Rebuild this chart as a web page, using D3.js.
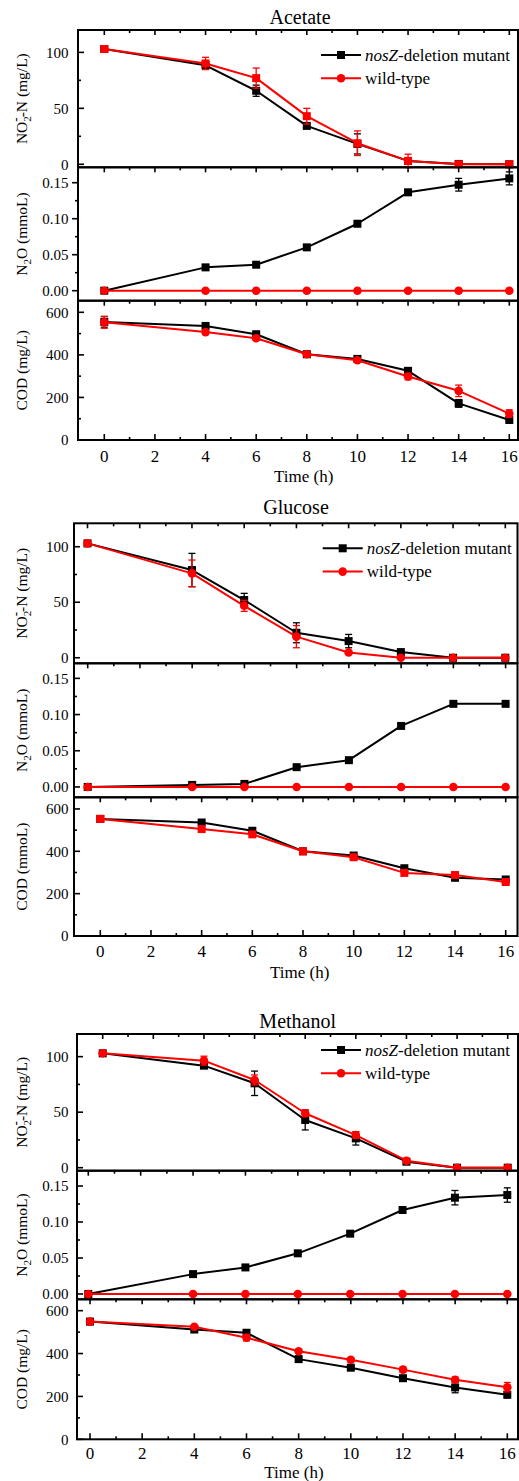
<!DOCTYPE html>
<html>
<head>
<meta charset="utf-8">
<script src="https://cdn.jsdelivr.net/npm/d3@7"></script>
<style>
  body { margin: 0; background: #fff; }
  svg { display: block; }
  text { font-family: "Liberation Serif", "Times New Roman", serif; fill: #000; }
</style>
</head>
<body>
<svg id="chart" width="519" height="1481"></svg>
<script>
// Sampling times (h) and axis tick values
const hours = [0, 4, 6, 8, 10, 12, 14, 16];
const timeTicks = d3.range(0, 17, 1);
const timeLabels = [0, 2, 4, 6, 8, 10, 12, 14, 16];
const nitriteTicks = [0, 50, 100];
const nitriteMinor = [25, 75];
const n2oTicks = [0, 0.05, 0.10, 0.15];
const n2oMinor = [0.025, 0.075, 0.125];
const codTicks = [0, 200, 400, 600];
const codMinor = [100, 300, 500];
const seriesNames = ["nosZ-deletion mutant", "wild-type"];

// Acetate
const acNitMut    = [103, 88.4, 65.7, 34.3, 18.2, 3.0, 0.3, 0];
const acNitMutErr = [1, 3, 5, 2, 9, 2, 1.5, 1];
const acNitWt     = [103, 90.1, 77.0, 43.0, 18.8, 3.0, 0, 0];
const acNitWtErr  = [1, 5.5, 9, 7, 11, 6, 1, 1];
const acN2oMut    = [0, 0.0324, 0.0361, 0.0602, 0.0930, 0.1366, 0.1472, 0.1560];
const acN2oMutErr = [0, 0.001, 0.001, 0.002, 0.003, 0.004, 0.0088, 0.009];
const acN2oWt     = [0, 0, 0, 0, 0, 0, 0, 0];
const acN2oWtErr  = [0, 0, 0, 0, 0, 0, 0, 0];
const acCodMut    = [555, 536, 497, 403, 381, 325, 172, 94];
const acCodMutErr = [25, 8, 10, 12, 10, 15, 18, 8];
const acCodWt     = [553, 507, 478, 403, 375, 298, 231, 124];
const acCodWtErr  = [28, 10, 10, 12, 10, 15, 27, 18];

// Glucose
const glNitMut    = [103, 79.0, 52.0, 22.5, 15.0, 5.1, 0, 0];
const glNitMutErr = [1, 15, 6, 9, 6, 1, 1, 1];
const glNitWt     = [103, 76.0, 46.8, 19.0, 4.8, 0, 0, 0];
const glNitWtErr  = [1, 12, 5, 10, 1, 1, 0.5, 0.5];
const glN2oMut    = [0, 0.0028, 0.0042, 0.0273, 0.0370, 0.0843, 0.1148, 0.1148];
const glN2oMutErr = [0, 0.001, 0.001, 0.001, 0.001, 0.002, 0.002, 0.002];
const glN2oWt     = [0, 0, 0, 0, 0, 0, 0, 0];
const glN2oWtErr  = [0, 0, 0, 0, 0, 0, 0, 0];
const glCodMut    = [553, 536, 497, 400, 380, 320, 275, 267];
const glCodMutErr = [4, 5, 5, 5, 5, 6, 6, 5];
const glCodWt     = [553, 505, 480, 400, 372, 298, 288, 255];
const glCodWtErr  = [4, 5, 5, 5, 5, 6, 6, 5];

// Methanol
const meNitMut    = [103, 91.9, 76.0, 43.0, 26.4, 5.4, 0, 0];
const meNitMutErr = [1, 2, 11, 9, 6, 2, 1, 1];
const meNitWt     = [103, 96.4, 79.0, 49.0, 29.4, 6.3, 0, 0];
const meNitWtErr  = [1, 4, 4.5, 3, 3, 2, 1, 1];
const meN2oMut    = [0, 0.0276, 0.0369, 0.0565, 0.0838, 0.1167, 0.1338, 0.1375];
const meN2oMutErr = [0, 0.001, 0.001, 0.001, 0.002, 0.004, 0.010, 0.010];
const meN2oWt     = [0, 0, 0, 0, 0, 0, 0, 0];
const meN2oWtErr  = [0, 0, 0, 0, 0, 0, 0, 0];
const meCodMut    = [549, 512, 497, 374, 334, 285, 242, 208];
const meCodMutErr = [5, 8, 8, 8, 8, 10, 25, 15];
const meCodWt     = [549, 525, 474, 411, 371, 325, 278, 243];
const meCodWtErr  = [5, 8, 15, 8, 10, 12, 12, 22];

const MUT = "#000000";
const WT = "#ff0000";

const kinds = {
  nit: { major: nitriteTicks, minor: nitriteMinor, fmt: d3.format("d") },
  n2o: { major: n2oTicks, minor: n2oMinor, fmt: d3.format(".2f") },
  cod: { major: codTicks, minor: codMinor, fmt: d3.format("d") }
};

const blocks = [
  {
    title: "Acetate", titleX: 300, titleY: 24, left: 78, right: 518,
    legendX: 321, legendY: 55, codTitle: "COD (mg/L)",
    tickLabelY: 461.7, timeX: 303.7, timeY: 482,
    panels: [
      { kind: "nit", top: 30, bottom: 167.3, yDom: [-2.7, 120], t0: 104.3, t16: 509.3,
        mut: acNitMut, mutErr: acNitMutErr, wt: acNitWt, wtErr: acNitWtErr, wtShape: "square", out: false },
      { kind: "n2o", top: 167.3, bottom: 300.7, yDom: [-0.0139, 0.1714], t0: 104.3, t16: 509.3,
        mut: acN2oMut, mutErr: acN2oMutErr, wt: acN2oWt, wtErr: acN2oWtErr, wtShape: "circle", out: true },
      { kind: "cod", top: 300.7, bottom: 440, yDom: [0, 654.5], t0: 104.3, t16: 509.3,
        mut: acCodMut, mutErr: acCodMutErr, wt: acCodWt, wtErr: acCodWtErr, wtShape: "circle", out: false }
    ]
  },
  {
    title: "Glucose", titleX: 296, titleY: 514, left: 74, right: 517.5,
    legendX: 322.7, legendY: 548.3, codTitle: "COD (mmoL)",
    tickLabelY: 957.3, timeX: 299.7, timeY: 978.3,
    panels: [
      { kind: "nit", top: 523.3, bottom: 663.3, yDom: [-5.0, 121.1], t0: 87.5, t16: 505.3,
        mut: glNitMut, mutErr: glNitMutErr, wt: glNitWt, wtErr: glNitWtErr, wtShape: "circle", out: false },
      { kind: "n2o", top: 663.3, bottom: 797.3, yDom: [-0.0143, 0.1708], t0: 87.7, t16: 505.6,
        mut: glN2oMut, mutErr: glN2oMutErr, wt: glN2oWt, wtErr: glN2oWtErr, wtShape: "circle", out: false },
      { kind: "cod", top: 797.3, bottom: 936, yDom: [0, 655], t0: 100.3, t16: 505.7,
        mut: glCodMut, mutErr: glCodMutErr, wt: glCodWt, wtErr: glCodWtErr, wtShape: "square", out: false }
    ]
  },
  {
    title: "Methanol", titleX: 297.7, titleY: 1027.7, left: 77, right: 518,
    legendX: 321, legendY: 1050, codTitle: "COD (mg/L)",
    tickLabelY: 1459, timeX: 294, timeY: 1478,
    panels: [
      { kind: "nit", top: 1034, bottom: 1170.7, yDom: [-2.7, 120.4], t0: 102.7, t16: 507.7,
        mut: meNitMut, mutErr: meNitMutErr, wt: meNitWt, wtErr: meNitWtErr, wtShape: "circle", out: false },
      { kind: "n2o", top: 1170.7, bottom: 1299.3, yDom: [-0.0074, 0.1713], t0: 88.3, t16: 507.3,
        mut: meN2oMut, mutErr: meN2oMutErr, wt: meN2oWt, wtErr: meN2oWtErr, wtShape: "circle", out: false },
      { kind: "cod", top: 1299.3, bottom: 1439.3, yDom: [0, 653], t0: 90, t16: 507.3,
        mut: meCodMut, mutErr: meCodMutErr, wt: meCodWt, wtErr: meCodWtErr, wtShape: "circle", out: false }
    ]
  }
];

const svg = d3.select("#chart");

function drawMarker(g, shape, cx, cy, color) {
  if (shape === "square") {
    g.append("rect").attr("x", cx - 4).attr("y", cy - 4).attr("width", 8).attr("height", 8)
      .attr("fill", color);
  } else {
    g.append("circle").attr("cx", cx).attr("cy", cy).attr("r", 4.3).attr("fill", color);
  }
}

function drawSeries(g, x, y, vals, errs, color, shape) {
  const line = d3.line().x((d, i) => x(hours[i])).y(d => y(d));
  g.append("path").datum(vals).attr("d", line)
    .attr("fill", "none").attr("stroke", color).attr("stroke-width", 2)
    .attr("stroke-linejoin", "round");
  const eb = g.append("g").attr("stroke", color).attr("stroke-width", 1.3);
  vals.forEach((v, i) => {
    const e = errs[i];
    if (!e) return;
    const cx = x(hours[i]);
    const y1 = y(v - e), y2 = y(v + e);
    eb.append("line").attr("x1", cx).attr("x2", cx).attr("y1", y1).attr("y2", y2);
    eb.append("line").attr("x1", cx - 3.5).attr("x2", cx + 3.5).attr("y1", y1).attr("y2", y1);
    eb.append("line").attr("x1", cx - 3.5).attr("x2", cx + 3.5).attr("y1", y2).attr("y2", y2);
  });
  const mg = g.append("g");
  vals.forEach((v, i) => drawMarker(mg, shape, x(hours[i]), y(v), color));
}

function yTitle(g, block, p) {
  const cy = (p.top + p.bottom) / 2;
  const t = g.append("text")
    .attr("transform", `translate(27,${cy}) rotate(-90)`)
    .attr("text-anchor", "middle")
    .attr("font-size", 15.5);
  if (p.kind === "nit") {
    t.append("tspan").text("NO");
    t.append("tspan").attr("dy", 4).attr("font-size", 11).text("2");
    t.append("tspan").attr("dx", -5.5).attr("dy", -11).attr("font-size", 13)
      .attr("font-weight", "bold").text("-");
    t.append("tspan").attr("dy", 7).text("-N (mg/L)");
  } else if (p.kind === "n2o") {
    t.append("tspan").text("N");
    t.append("tspan").attr("dy", 4).attr("font-size", 11).text("2");
    t.append("tspan").attr("dy", -4).text("O (mmoL)");
  } else {
    t.text(block.codTitle);
  }
}

blocks.forEach(block => {
  const bg = svg.append("g");

  bg.append("text").attr("x", block.titleX).attr("y", block.titleY)
    .attr("text-anchor", "middle").attr("font-size", 20).text(block.title);

  block.panels.forEach((p, pi) => {
    const g = bg.append("g");
    const x = d3.scaleLinear().domain([0, 16]).range([p.t0, p.t16]);
    const y = d3.scaleLinear().domain(p.yDom).range([p.bottom, p.top]);
    const k = kinds[p.kind];
    const isLast = pi === block.panels.length - 1;

    // top-edge time ticks (inward)
    const tg = g.append("g").attr("stroke", "#000").attr("stroke-width", 1.6);
    timeTicks.forEach(t => {
      const len = t % 2 === 0 ? 5 : 3;
      tg.append("line").attr("x1", x(t)).attr("x2", x(t))
        .attr("y1", p.top).attr("y2", p.top + len);
      if (isLast) {
        tg.append("line").attr("x1", x(t)).attr("x2", x(t))
          .attr("y1", p.bottom).attr("y2", p.bottom - (t % 2 === 0 ? 6 : 3));
      }
    });

    // value axis ticks
    const dir = p.out ? -1 : 1;
    k.major.forEach(v => {
      tg.append("line").attr("x1", block.left).attr("x2", block.left + dir * 6)
        .attr("y1", y(v)).attr("y2", y(v));
      g.append("text").attr("x", 68.5).attr("y", y(v)).attr("dy", "0.35em")
        .attr("text-anchor", "end").attr("font-size", 15).text(k.fmt(v));
    });
    k.minor.forEach(v => {
      tg.append("line").attr("x1", block.left).attr("x2", block.left + dir * 3)
        .attr("y1", y(v)).attr("y2", y(v));
    });

    // frame
    g.append("rect").attr("x", block.left).attr("y", p.top)
      .attr("width", block.right - block.left).attr("height", p.bottom - p.top)
      .attr("fill", "none").attr("stroke", "#000").attr("stroke-width", 2);

    yTitle(g, block, p);

    drawSeries(g, x, y, p.mut, p.mutErr, MUT, "square");
    drawSeries(g, x, y, p.wt, p.wtErr, WT, p.wtShape);

    if (isLast) {
      timeLabels.forEach(t => {
        g.append("text").attr("x", x(t)).attr("y", block.tickLabelY)
          .attr("text-anchor", "middle").attr("font-size", 17).text(t);
      });
      g.append("text").attr("x", block.timeX).attr("y", block.timeY)
        .attr("text-anchor", "middle").attr("font-size", 17).text("Time (h)");
    }
  });

  // legend
  const lg = bg.append("g");
  [[MUT, "square"], [WT, "circle"]].forEach(([color, shape], i) => {
    const ly = block.legendY + i * 23.3;
    lg.append("line").attr("x1", block.legendX).attr("x2", block.legendX + 40)
      .attr("y1", ly).attr("y2", ly).attr("stroke", color).attr("stroke-width", 2);
    drawMarker(lg, shape, block.legendX + 20, ly, color);
    const txt = lg.append("text").attr("x", block.legendX + 44).attr("y", ly + 5.5)
      .attr("font-size", 17);
    if (i === 0) {
      txt.append("tspan").attr("font-style", "italic").text("nosZ");
      txt.append("tspan").text("-deletion mutant");
    } else {
      txt.text(seriesNames[1]);
    }
  });
});
</script>
</body>
</html>
